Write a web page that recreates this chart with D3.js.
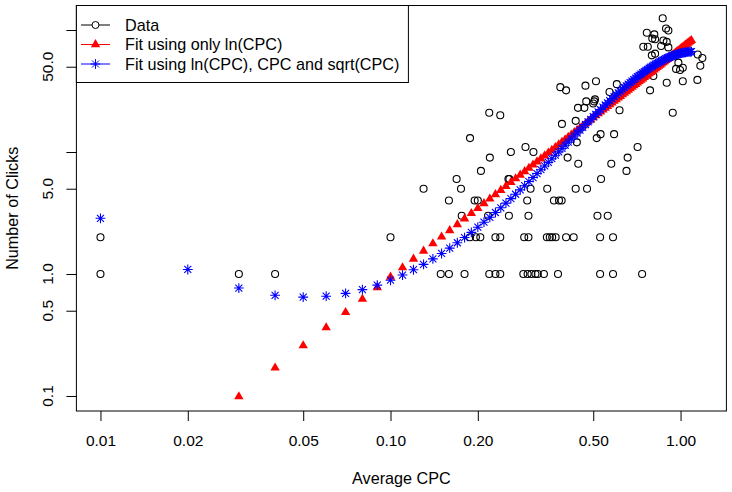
<!DOCTYPE html>
<html>
    <head>
        <title></title>
        <script src="https://d3js.org/d3.v7.min.js"></script>
        <style>
            body { margin: 0; background: #fff; }
        </style>
    </head>

    <body>
        <div id="my_dataviz"></div>
    </body>

    <script>
        // observed data: average CPC and number of clicks
        var dataCpc = [
            0.01, 0.03, 0.04, 0.149, 0.159, 0.180, 0.219, 0.230, 0.239, 0.287, 0.297, 0.306, 0.316, 0.322, 0.338, 0.378, 0.528, 0.585, 0.737,
            0.01, 0.10, 0.188, 0.197, 0.204, 0.230, 0.239, 0.289, 0.299, 0.346, 0.354, 0.361, 0.371, 0.403, 0.428, 0.528, 0.585,
            0.176, 0.217, 0.256, 0.299, 0.517, 0.561,
            0.159, 0.195, 0.200, 0.296, 0.366, 0.381, 0.389,
            0.130, 0.175, 0.304, 0.347, 0.435, 0.476,
            0.169, 0.255, 0.257, 0.532,
            0.205, 0.651,
            0.444, 0.577,
            0.220, 0.408, 0.657,
            0.260, 0.311,
            0.292, 0.711,
            0.439,
            0.188, 0.514,
            0.530, 0.590,
            0.390, 0.435, 0.239, 0.219, 0.940, 0.616,
            0.443, 0.466, 0.500, 0.473, 0.504, 0.507,
            0.569, 0.403, 0.785, 0.385, 0.470, 0.603, 0.896, 0.511, 1.018, 1.143,
            0.806, 0.996, 0.965, 1.018, 1.170, 0.983, 1.189, 0.796, 1.146, 0.817,
            0.908, 0.744, 0.771, 0.857, 0.896, 0.873, 0.817, 0.799, 0.812, 0.765,
            0.908, 0.891, 0.868
        ];
        var dataClicks = [
            1, 1, 1, 1, 1, 1, 1, 1, 1, 1, 1, 1, 1, 1, 1, 1, 1, 1, 1,
            2, 2, 2, 2, 2, 2, 2, 2, 2, 2, 2, 2, 2, 2, 2, 2, 2,
            3, 3, 3, 3, 3, 3,
            4, 4, 4, 4, 4, 4, 4,
            5, 5, 5, 5, 5, 5,
            6, 6, 6, 6,
            7, 7,
            8, 8,
            9, 9, 9,
            10, 10,
            11, 11,
            12,
            13, 13,
            14, 14,
            17, 18, 20, 21, 21, 22,
            23, 23, 25, 26, 26, 27,
            31, 32, 32, 34, 35, 36, 37, 38, 38, 39,
            42, 47, 48, 49, 51, 54, 59, 62, 63, 64,
            72, 73, 73, 74, 80, 82, 84, 85, 92, 95,
            99, 103, 125
        ];

        // CPC grid for the fitted values
        var fitCpc = [
            0.01, 0.02, 0.03, 0.04, 0.05, 0.06, 0.07, 0.08, 0.09, 0.10,
            0.11, 0.12, 0.13, 0.14, 0.15, 0.16, 0.17, 0.18, 0.19, 0.20,
            0.21, 0.22, 0.23, 0.24, 0.25, 0.26, 0.27, 0.28, 0.29, 0.30,
            0.31, 0.32, 0.33, 0.34, 0.35, 0.36, 0.37, 0.38, 0.39, 0.40,
            0.41, 0.42, 0.43, 0.44, 0.45, 0.46, 0.47, 0.48, 0.49, 0.50,
            0.51, 0.52, 0.53, 0.54, 0.55, 0.56, 0.57, 0.58, 0.59, 0.60,
            0.61, 0.62, 0.63, 0.64, 0.65, 0.66, 0.67, 0.68, 0.69, 0.70,
            0.71, 0.72, 0.73, 0.74, 0.75, 0.76, 0.77, 0.78, 0.79, 0.80,
            0.81, 0.82, 0.83, 0.84, 0.85, 0.86, 0.87, 0.88, 0.89, 0.90,
            0.91, 0.92, 0.93, 0.94, 0.95, 0.96, 0.97, 0.98, 0.99, 1.00,
            1.01, 1.02, 1.03, 1.04, 1.05, 1.06, 1.07, 1.08, 1.09
        ];

        // fit using only ln(CPC) (first two fall below the plot)
        var fitLn = [
            null, null,
            0.099, 0.170, 0.259, 0.364, 0.485, 0.623, 0.776, 0.945, 1.129, 1.329,
            1.543, 1.773, 2.017, 2.276, 2.548, 2.836, 3.139, 3.454, 3.784, 4.128,
            4.485, 4.858, 5.243, 5.643, 6.055, 6.482, 6.922, 7.373, 7.842, 8.318,
            8.810, 9.318, 9.838, 10.37, 10.91, 11.47, 12.04, 12.63, 13.22, 13.83,
            14.45, 15.09, 15.74, 16.40, 17.07, 17.75, 18.46, 19.17, 19.89, 20.62,
            21.37, 22.13, 22.90, 23.69, 24.49, 25.29, 26.12, 26.95, 27.79, 28.65,
            29.52, 30.41, 31.30, 32.21, 33.13, 34.06, 34.99, 35.95, 36.92, 37.89,
            38.88, 39.88, 40.90, 41.93, 42.97, 44.01, 45.07, 46.15, 47.24, 48.33,
            49.45, 50.56, 51.69, 52.83, 54.00, 55.17, 56.35, 57.53, 58.72, 59.95,
            61.17, 62.39, 63.64, 64.92, 66.19, 67.45, 68.75, 70.06, 71.36, 72.70,
            74.02, 75.38, 76.74, 78.12, 79.52, 80.90, 82.29
        ];

        // fit using ln(CPC), CPC and sqrt(CPC)
        var fitFull = [
            2.862, 1.089, 0.767, 0.669, 0.646, 0.658, 0.694, 0.745, 0.811, 0.889,
            0.980, 1.084, 1.200, 1.330, 1.473, 1.631, 1.804, 1.990, 2.195, 2.418,
            2.658, 2.915, 3.193, 3.490, 3.808, 4.145, 4.505, 4.889, 5.294, 5.724,
            6.174, 6.658, 7.156, 7.681, 8.229, 8.810, 9.410, 10.03, 10.69, 11.36,
            12.06, 12.80, 13.54, 14.31, 15.12, 15.94, 16.80, 17.67, 18.54, 19.45,
            20.38, 21.34, 22.29, 23.29, 24.28, 25.29, 26.31, 27.37, 28.39, 29.47,
            30.54, 31.62, 32.72, 33.79, 34.89, 35.98, 37.06, 38.16, 39.26, 40.33,
            41.38, 42.49, 43.54, 44.60, 45.61, 46.67, 47.66, 48.67, 49.66, 50.61,
            51.54, 52.48, 53.34, 54.25, 55.09, 55.93, 56.74, 57.49, 58.25, 58.99,
            59.68, 60.33, 60.95, 61.57, 62.11, 62.63, 63.11, 63.60, 64.03, 64.42,
            64.79, 65.11, 65.41, 65.67, 65.86, 66.06, 66.20, 66.34, 66.41
        ];

        // tick labels
        var xTicks = [0.01, 0.02, 0.05, 0.10, 0.20, 0.50, 1.00];
        var yTicks = [0.1, 0.5, 1, 5, 10, 50, 100];
        var yLabels = [0.1, 0.5, 1, 5, 50];

        var legendLabels = ["Data", "Fit using only ln(CPC)", "Fit using ln(CPC), CPC and sqrt(CPC)"];

        var width = 732, height = 492;
        var plotLeft = 76.4, plotRight = 726.4, plotTop = 5.5, plotBottom = 411;
        var font = "'Liberation Sans', Arial, Helvetica, sans-serif";
        var fontSize = "16.2px";

        var svg = d3.select("#my_dataviz")
        .append("svg")
        .attr("width", width)
        .attr("height", height)
        .style("display", "block");

        // log scales, padded like R (4% of data range on each side)
        var x = d3.scaleLog()
        .domain([0.00826, 1.4391])
        .range([plotLeft, plotRight]);

        var y = d3.scaleLog()
        .domain([0.07534, 158.8])
        .range([plotBottom, plotTop]);

        // x axis
        var gx = svg.append("g")
        .attr("transform", "translate(0," + plotBottom + ")")
        .call(d3.axisBottom(x).tickValues(xTicks).tickFormat(d3.format(".2f")).tickSize(10).tickPadding(14));
        gx.select(".domain").remove();
        gx.attr("font-family", font).attr("font-size", "15.5px");
        gx.selectAll("line").attr("stroke", "#000");

        // y axis, labels rotated as in base R
        var gy = svg.append("g")
        .attr("transform", "translate(" + plotLeft + ",0)")
        .call(d3.axisLeft(y).tickValues(yTicks).tickFormat("").tickSize(10));
        gy.select(".domain").remove();
        gy.selectAll("line").attr("stroke", "#000");

        svg.append("g")
        .selectAll("text")
        .data(yLabels)
        .enter()
        .append("text")
        .attr("transform", function(d) {
            return "translate(" + (plotLeft - 28.5) + "," + y(d) + ") rotate(-90)";
        })
        .attr("text-anchor", "middle")
        .attr("dy", "0.36em")
        .attr("font-family", font)
        .attr("font-size", "15.5px")
        .text(function(d) { return d3.format(".1f")(d); });

        // axis titles
        svg.append("text")
        .attr("x", (plotLeft + plotRight) / 2)
        .attr("y", 484)
        .attr("text-anchor", "middle")
        .attr("font-family", font)
        .attr("font-size", fontSize)
        .text("Average CPC");

        svg.append("text")
        .attr("transform", "translate(12," + (plotTop + plotBottom) / 2 + ") rotate(-90)")
        .attr("text-anchor", "middle")
        .attr("dy", "0.36em")
        .attr("font-family", font)
        .attr("font-size", fontSize)
        .text("Number of Clicks");

        // plot box and clipping
        svg.append("clipPath").attr("id", "clip")
        .append("rect")
        .attr("x", plotLeft).attr("y", plotTop)
        .attr("width", plotRight - plotLeft).attr("height", plotBottom - plotTop);

        var plot = svg.append("g").attr("clip-path", "url(#clip)");

        // marker shapes (pch 1, 17, 8)
        var tri = "M0,-5.4L4.7,2.7L-4.7,2.7Z";
        var star = "M-4.9,0H4.9M0,-4.9V4.9M-3.5,-3.5L3.5,3.5M-3.5,3.5L3.5,-3.5";
        var radius = 3.5;

        plot.selectAll(".pt")
        .data(dataCpc)
        .enter()
        .append("circle")
        .attr("cx", function(d) { return x(d); })
        .attr("cy", function(d, i) { return y(dataClicks[i]); })
        .attr("r", radius)
        .attr("fill", "none")
        .attr("stroke", "#000")
        .attr("stroke-width", 1.1);

        var lnPts = fitCpc.map(function(d, i) { return [d, fitLn[i]]; })
        .filter(function(d) { return d[1] != null; });

        plot.selectAll(".tri")
        .data(lnPts)
        .enter()
        .append("path")
        .attr("d", tri)
        .attr("transform", function(d) { return "translate(" + x(d[0]) + "," + y(d[1]) + ")"; })
        .attr("fill", "#ff0000");

        plot.selectAll(".star")
        .data(fitCpc)
        .enter()
        .append("path")
        .attr("d", star)
        .attr("transform", function(d, i) { return "translate(" + x(d) + "," + y(fitFull[i]) + ")"; })
        .attr("fill", "none")
        .attr("stroke", "#0000ff")
        .attr("stroke-width", 1.1);

        svg.append("rect")
        .attr("x", plotLeft).attr("y", plotTop)
        .attr("width", plotRight - plotLeft).attr("height", plotBottom - plotTop)
        .attr("fill", "none")
        .attr("stroke", "#000")
        .attr("stroke-width", 1);

        // legend
        var lg = svg.append("g");
        lg.append("rect")
        .attr("x", plotLeft).attr("y", plotTop)
        .attr("width", 332).attr("height", 77)
        .attr("fill", "#fff")
        .attr("stroke", "#000")
        .attr("stroke-width", 1);

        var rowY = [25, 44.5, 64];
        var colors = ["#000", "#ff0000", "#0000ff"];

        legendLabels.forEach(function(label, i) {
            lg.append("line")
            .attr("x1", 81).attr("x2", 110)
            .attr("y1", rowY[i]).attr("y2", rowY[i])
            .attr("stroke", colors[i]);

            if (i == 0) {
                lg.append("circle")
                .attr("cx", 95.5).attr("cy", rowY[i]).attr("r", radius)
                .attr("fill", "#fff").attr("stroke", "#000");
            } else if (i == 1) {
                lg.append("path").attr("d", tri)
                .attr("transform", "translate(95.5," + rowY[i] + ")")
                .attr("fill", "#ff0000");
            } else {
                lg.append("path").attr("d", star)
                .attr("transform", "translate(95.5," + rowY[i] + ")")
                .attr("fill", "none").attr("stroke", "#0000ff");
            }

            lg.append("text")
            .attr("x", 125)
            .attr("y", rowY[i])
            .attr("dy", "0.36em")
            .attr("font-family", font)
            .attr("font-size", fontSize)
            .text(label);
        });
    </script>
</html>
